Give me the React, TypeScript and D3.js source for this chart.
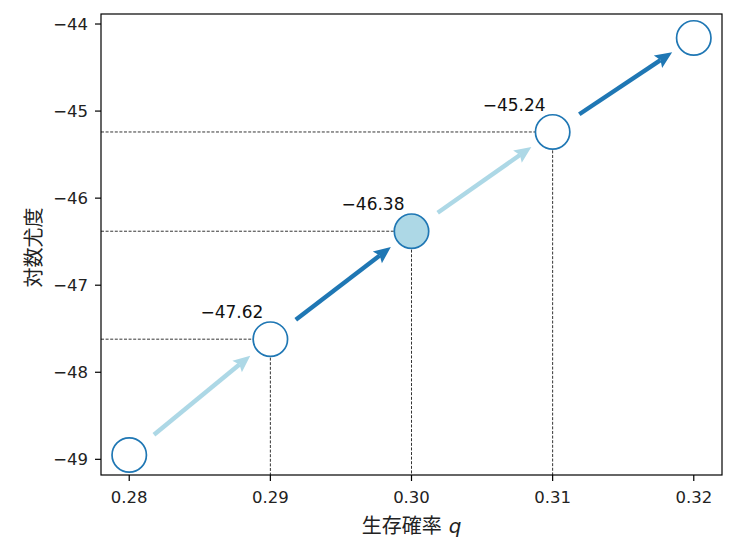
import React from 'react';
import * as d3 from 'd3';

const qValues = [0.28, 0.29, 0.3, 0.31, 0.32];
const logLik = [-48.95, -47.62, -46.38, -45.24, -44.16];
const labeledIdx = [1, 2, 3];
const highlightIdx = 2;
const xTicks = [0.28, 0.29, 0.3, 0.31, 0.32];
const yTicks = [-49, -48, -47, -46, -45, -44];
const xDomain = [0.278, 0.322];
const yDomain = [-49.18, -43.885];
const arrowColors = ['#add8e6', '#1f77b4', '#add8e6', '#1f77b4'];
const xLabel = '生存確率';
const xLabelVar = 'q';
const yLabel = '対数尤度';

const W = 741;
const H = 544;
const M = { left: 101, right: 722, top: 14, bottom: 475 };
const NUM_FONT = 'DejaVu Sans, sans-serif';
const CJK_FONT = '"Noto Sans CJK JP", "DejaVu Sans", sans-serif';

export default function App() {
  const x = d3.scaleLinear().domain(xDomain).range([M.left, M.right]);
  const y = d3.scaleLinear().domain(yDomain).range([M.bottom, M.top]);
  const fx = d3.format('.2f');
  const fy = d3.format('d');
  const pts = qValues.map((q, i) => ({ cx: x(q), cy: y(logLik[i]), v: logLik[i] }));
  const R = 17.2;

  const arrows = pts.slice(0, -1).map((p, i) => {
    const n = pts[i + 1];
    const dx = n.cx - p.cx;
    const dy = n.cy - p.cy;
    const len = Math.hypot(dx, dy);
    const ux = dx / len;
    const uy = dy / len;
    const vx = -uy;
    const vy = ux;
    const sx = p.cx + ux * 32;
    const sy = p.cy + uy * 32;
    const tx = n.cx - ux * 26;
    const ty = n.cy - uy * 26;
    const hl = 17;
    const hw = 7.5;
    const bx = tx - ux * hl;
    const by = ty - uy * hl;
    const shaftEndX = tx - ux * (hl - 3);
    const shaftEndY = ty - uy * (hl - 3);
    const head = `M${tx},${ty}L${bx + vx * hw},${by + vy * hw}L${tx - ux * (hl - 3)},${ty - uy * (hl - 3)}L${bx - vx * hw},${by - vy * hw}Z`;
    return { sx, sy, ex: shaftEndX, ey: shaftEndY, head, color: arrowColors[i] };
  });

  return (
    <svg width={W} height={H} style={{ position: 'absolute', left: 0, top: 0, display: 'block', background: '#fff' }}>
      <rect x={0} y={0} width={W} height={H} fill="#fff" />
      {labeledIdx.map((i) => (
        <g key={'g' + i}>
          <line x1={M.left} x2={pts[i].cx} y1={pts[i].cy} y2={pts[i].cy} stroke="#000" strokeWidth={0.8} strokeDasharray="3,1.6" />
          <line x1={pts[i].cx} x2={pts[i].cx} y1={pts[i].cy} y2={M.bottom} stroke="#000" strokeWidth={0.8} strokeDasharray="3,1.6" />
        </g>
      ))}
      {arrows.map((a, i) => (
        <g key={'a' + i}>
          <line x1={a.sx} y1={a.sy} x2={a.ex} y2={a.ey} stroke={a.color} strokeWidth={4.4} />
          <path d={a.head} fill={a.color} />
        </g>
      ))}
      {pts.map((p, i) => (
        <circle key={'c' + i} cx={p.cx} cy={p.cy} r={R} fill={i === highlightIdx ? '#add8e6' : '#fff'} stroke="#1f77b4" strokeWidth={1.7} />
      ))}
      {labeledIdx.map((i) => (
        <text key={'t' + i} x={pts[i].cx - 7} y={pts[i].cy - 21} textAnchor="end" fontFamily={NUM_FONT} fontSize={17} fill="#111">
          {fx(pts[i].v)}
        </text>
      ))}
      <rect x={M.left} y={M.top} width={M.right - M.left} height={M.bottom - M.top} fill="none" stroke="#000" strokeWidth={1.2} />
      {xTicks.map((t) => (
        <g key={'xt' + t}>
          <line x1={x(t)} x2={x(t)} y1={M.bottom} y2={M.bottom + 6} stroke="#000" strokeWidth={1.2} />
          <text x={x(t)} y={M.bottom + 28} textAnchor="middle" fontFamily={NUM_FONT} fontSize={16.5} fill="#222">
            {fx(t)}
          </text>
        </g>
      ))}
      {yTicks.map((t) => (
        <g key={'yt' + t}>
          <line x1={M.left - 6} x2={M.left} y1={y(t)} y2={y(t)} stroke="#000" strokeWidth={1.2} />
          <text x={M.left - 13} y={y(t)} dy="0.36em" textAnchor="end" fontFamily={NUM_FONT} fontSize={16.5} fill="#222">
            {fy(t)}
          </text>
        </g>
      ))}
      <text x={(M.left + M.right) / 2} y={533} textAnchor="middle" fontFamily={CJK_FONT} fontSize={20} fill="#222">
        {xLabel}
        <tspan dx={7} fontFamily={NUM_FONT} fontStyle="italic">{xLabelVar}</tspan>
      </text>
      <text transform={`translate(41, ${(M.top + M.bottom) / 2 + 3}) rotate(-90)`} textAnchor="middle" fontFamily={CJK_FONT} fontSize={20} fill="#222">
        {yLabel}
      </text>
    </svg>
  );
}
